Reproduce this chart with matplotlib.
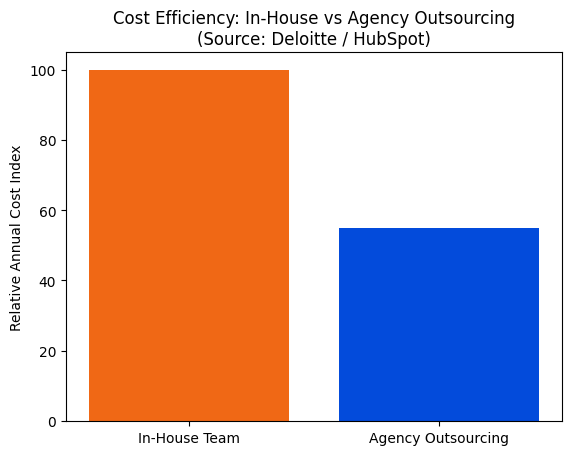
import matplotlib
matplotlib.use("Agg")
import matplotlib.pyplot as plt

categories = ["In-House Team", "Agency Outsourcing"]
cost_index = [100, 55]
bar_colors = ["#F06815", "#034BDB"]

fig = plt.figure(figsize=(5.71, 4.56), dpi=100)
ax = fig.add_axes([0.1156, 0.0746, 0.8686, 0.8092])

ax.bar(categories, cost_index, color=bar_colors)
ax.set_ylabel("Relative Annual Cost Index")
ax.set_title("Cost Efficiency: In-House vs Agency Outsourcing\n(Source: Deloitte / HubSpot)")

fig.savefig("out.png", dpi=100)
